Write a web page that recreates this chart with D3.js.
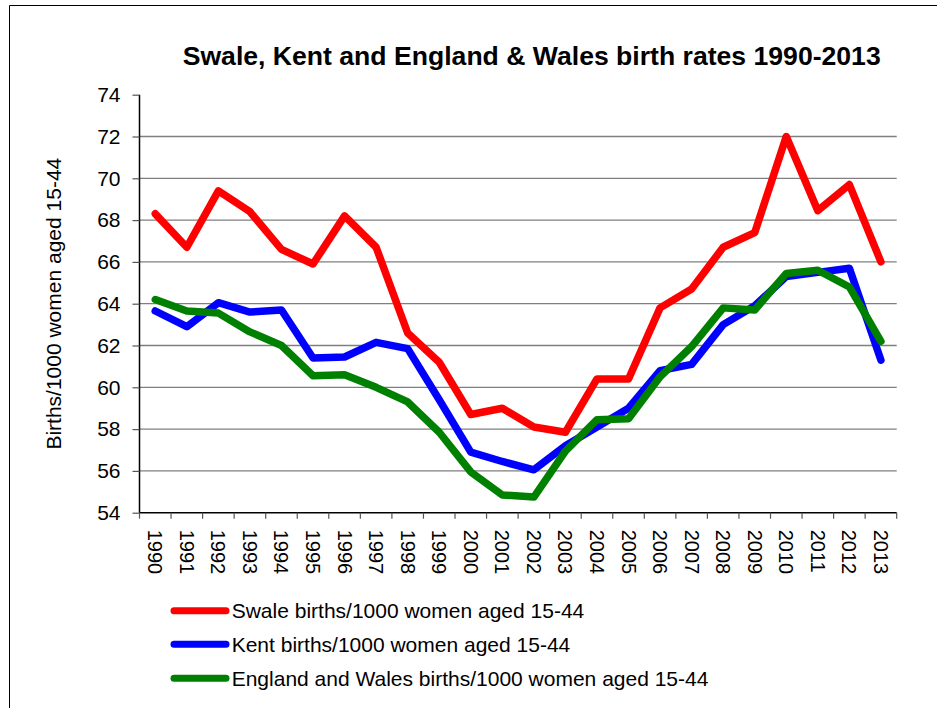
<!DOCTYPE html>
<html>
<head>
<meta charset="utf-8">
<script src="https://cdn.jsdelivr.net/npm/d3@7"></script>
<style>
  html, body { margin: 0; padding: 0; background: #fff; }
  svg { display: block; }
  text { font-family: "Liberation Sans", Arial, sans-serif; fill: #000; }
</style>
</head>
<body>
<svg id="chart" width="937" height="708"></svg>
<script>
const years = ["1990","1991","1992","1993","1994","1995","1996","1997","1998","1999","2000","2001","2002","2003","2004","2005","2006","2007","2008","2009","2010","2011","2012","2013"];
const swale = [68.3, 66.7, 69.4, 68.4, 66.6, 65.9, 68.2, 66.7, 62.6, 61.2, 58.7, 59.0, 58.1, 57.85, 60.4, 60.4, 63.8, 64.7, 66.7, 67.4, 72.0, 68.45, 69.7, 66.0];
const kent = [63.65, 62.9, 64.05, 63.6, 63.7, 61.4, 61.45, 62.15, 61.85, 59.4, 56.9, 56.45, 56.05, 57.2, 58.1, 59.0, 60.8, 61.1, 63.0, 63.9, 65.3, 65.5, 65.7, 61.3];
const engWales = [64.2, 63.65, 63.55, 62.65, 62.0, 60.55, 60.6, 60.0, 59.3, 57.85, 55.95, 54.85, 54.75, 56.95, 58.45, 58.5, 60.5, 61.95, 63.8, 63.7, 65.45, 65.6, 64.8, 62.2];
const yTicks = [54, 56, 58, 60, 62, 64, 66, 68, 70, 72, 74];
const seriesNames = ["Swale births/1000 women aged 15-44", "Kent births/1000 women aged 15-44", "England and Wales births/1000 women aged 15-44"];
const seriesColors = ["#ff0000", "#0000ff", "#008000"];
const titleText = "Swale, Kent and England & Wales birth rates 1990-2013";
const yTitle = "Births/1000 women aged 15-44";

const series = [swale, kent, engWales].map((vals, i) => ({ name: seriesNames[i], color: seriesColors[i], values: vals }));

const svg = d3.select("#chart");
const L = 139.5, R = 896.7, T = 94.7, B = 512.7;

// frame borders (top and left)
svg.append("line").attr("x1", 9.5).attr("x2", 937).attr("y1", 5.5).attr("y2", 5.5).attr("stroke", "#000").attr("stroke-width", 1);
svg.append("line").attr("x1", 9.5).attr("x2", 9.5).attr("y1", 5.5).attr("y2", 708).attr("stroke", "#000").attr("stroke-width", 1);

const x = d3.scaleBand().domain(years).range([L, R]).paddingInner(0).paddingOuter(0);
const y = d3.scaleLinear().domain([54, 74]).range([B, T]);
const cx = d => x(d) + x.bandwidth() / 2;

// gridlines
svg.append("g").selectAll("line").data(yTicks.filter(v => v > 54 && v < 74)).join("line")
  .attr("x1", L).attr("x2", R).attr("y1", d => y(d)).attr("y2", d => y(d))
  .attr("stroke", "#7f7f7f").attr("stroke-width", 1.3);

// y axis
const yAxis = svg.append("g").attr("transform", `translate(${L},0)`)
  .call(d3.axisLeft(y).tickValues(yTicks).tickSize(7).tickPadding(12).tickFormat(d3.format("d")));
yAxis.select(".domain").attr("stroke", "#000").attr("stroke-width", 1.5).attr("d", `M0,${T}V${B}`);
yAxis.selectAll(".tick line").attr("stroke", "#555").attr("stroke-width", 1.2);
yAxis.selectAll(".tick text").attr("font-size", 21).attr("font-family", "Liberation Sans, Arial, sans-serif").attr("fill", "#000");

// x axis
const xAxis = svg.append("g").attr("transform", `translate(0,${B})`)
  .call(d3.axisBottom(x).tickSize(0).tickFormat(d => d));
xAxis.select(".domain").attr("stroke", "#000").attr("stroke-width", 1.5).attr("d", `M${L},0H${R}`);
xAxis.selectAll(".tick text")
  .attr("font-size", 20).attr("font-family", "Liberation Sans, Arial, sans-serif").attr("fill", "#000")
  .attr("text-anchor", "start")
  .attr("transform", "translate(0,17) rotate(90)")
  .attr("x", 0).attr("y", 0).attr("dy", "0.35em");
// boundary ticks
const bounds = years.map(d => x(d)).concat([R]);
svg.append("g").selectAll("line").data(bounds).join("line")
  .attr("x1", d => d).attr("x2", d => d).attr("y1", B).attr("y2", B + 6)
  .attr("stroke", "#555").attr("stroke-width", 1.2);

// lines
const line = d3.line().x((v, i) => cx(years[i])).y(v => y(v));
svg.append("g").selectAll("path").data(series).join("path")
  .attr("d", d => line(d.values))
  .attr("fill", "none").attr("stroke", d => d.color).attr("stroke-width", 7.5)
  .attr("stroke-linejoin", "round").attr("stroke-linecap", "round");

// title
svg.append("text").attr("x", 531.7).attr("y", 65).attr("text-anchor", "middle")
  .attr("font-size", 26).attr("font-weight", "bold")
  .attr("textLength", 698).attr("lengthAdjust", "spacingAndGlyphs")
  .text(titleText);

// y title
svg.append("text").attr("transform", `translate(61,${(T + B) / 2}) rotate(-90)`)
  .attr("text-anchor", "middle").attr("font-size", 21)
  .text(yTitle);

// legend
const legY = [610.7, 644.3, 678.3];
const leg = svg.append("g").selectAll("g").data(series).join("g")
  .attr("transform", (d, i) => `translate(0,${legY[i]})`);
leg.append("line").attr("x1", 174).attr("x2", 226).attr("y1", 0).attr("y2", 0)
  .attr("stroke", d => d.color).attr("stroke-width", 7).attr("stroke-linecap", "round");
leg.append("text").attr("x", 231.7).attr("y", 7.5).attr("font-size", 21).text(d => d.name);
</script>
</body>
</html>
